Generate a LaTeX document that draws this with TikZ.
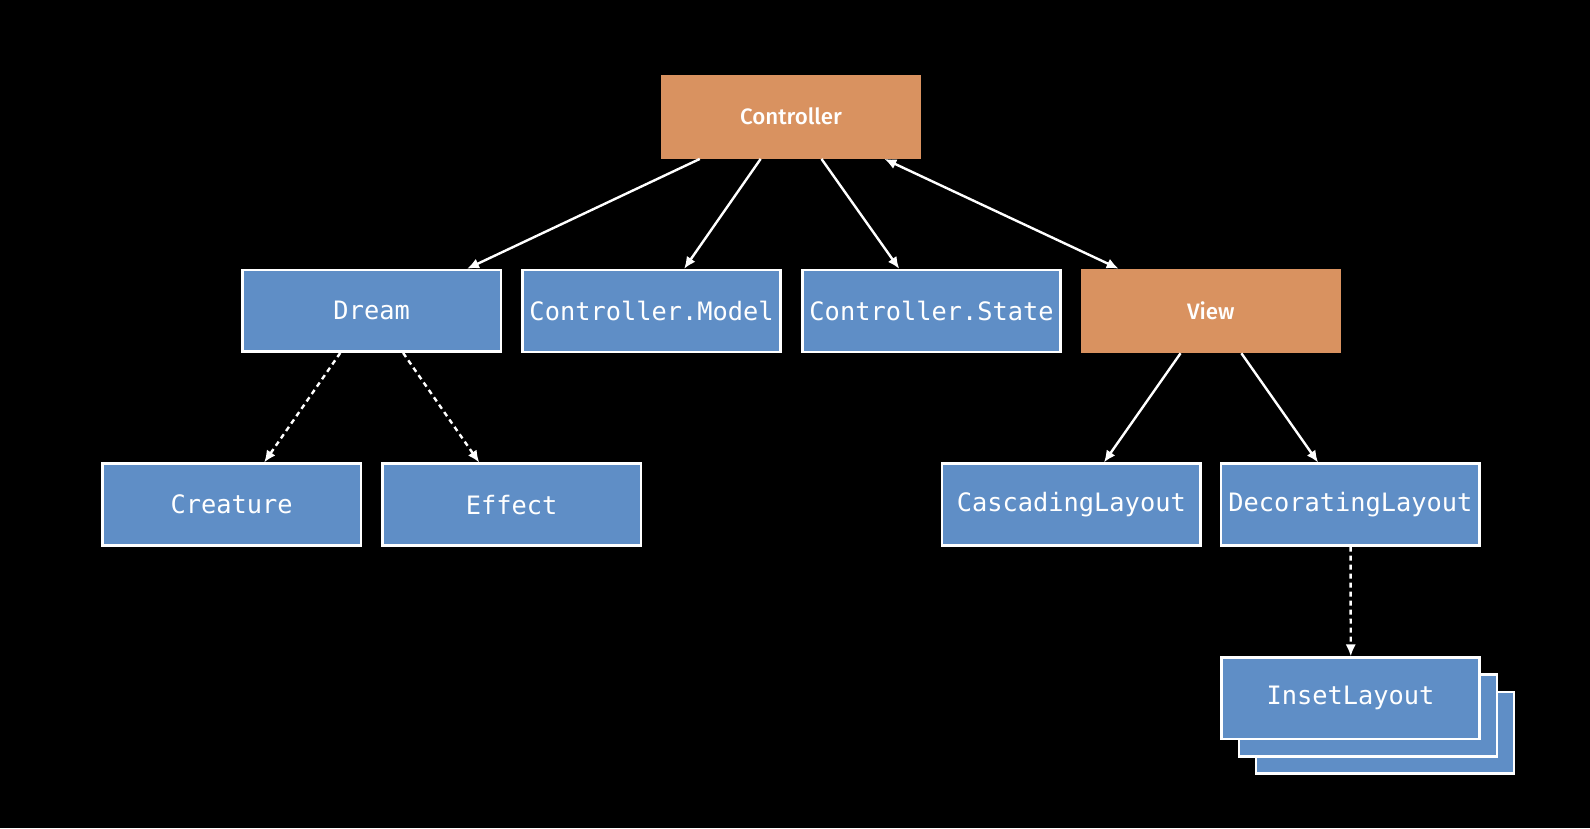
\documentclass[tikz,border=0pt]{standalone}
\usepackage{fontspec}
\setmonofont{DejaVu Sans Mono}
\setsansfont{Fira Sans Medium}
\usetikzlibrary{calc, arrows.meta, positioning}

\definecolor{ctlorange}{RGB}{217,146,96}
\definecolor{typeblue}{RGB}{95,142,198}

\begin{document}
\begin{tikzpicture}[x=1pt,y=1pt,scale=1.014,transform shape,inner sep=0pt,>={Latex[length=12pt,width=10.5pt]},
  typebox/.style={draw=white,line width=2.4pt,fill=typeblue,minimum width=254.6pt,minimum height=80.6pt,text=white,font=\fontsize{25}{30}\selectfont\ttfamily},
  ctlbox/.style={fill=ctlorange,minimum width=257pt,minimum height=83pt,text=white,font=\fontsize{22}{26}\selectfont\sffamily},
  link/.style={->,white,line width=2.4pt},
  weak/.style={link,dash pattern=on 5pt off 4pt}]
\fill [black] (0,0) rectangle (1568,-816.6);
\useasboundingbox (0,0) rectangle (1568,-816.6);
% top
\draw node [ctlbox] (ctrl) at (780,-115) {Controller};
% second row
\draw node [typebox] (dream) at (366.5,-306.5) {Dream};
\draw node [typebox] [right=19pt of dream] (model) {Controller.Model};
\draw node [typebox] [right=19pt of model] (state) {Controller.State};
\draw node [ctlbox] [right=18pt of state] (view) {View};
% third row
\draw node [typebox] (creature) at (228.5,-497.5) {Creature};
\draw node [typebox] [right=19pt of creature] (effect) {Effect};
\draw node [typebox] (cascade) at (1056.5,-497.5) {CascadingLayout};
\draw node [typebox] [right=18pt of cascade] (deco) {DecoratingLayout};
% stacked inset
\draw node [typebox] [below=108pt of deco,xshift=34pt,yshift=-34pt] (inset3) {};
\draw node [typebox] [below=108pt of deco,xshift=17pt,yshift=-17pt] (inset2) {};
\draw node [typebox] [below=108pt of deco] (inset) {InsetLayout};
% links
\draw [link] ([xshift=-90pt]ctrl.south) -- ([xshift=94pt]dream.north);
\draw [link] ([xshift=-30pt]ctrl.south) -- ([xshift=32pt]model.north);
\draw [link] ([xshift=30pt]ctrl.south) -- ([xshift=-32pt]state.north);
\draw [link,<->] ([xshift=92pt]ctrl.south) -- ([xshift=-91pt]view.north);
\draw [weak] ([xshift=-31pt]dream.south) -- ([xshift=32pt]creature.north);
\draw [weak] ([xshift=31pt]dream.south) -- ([xshift=-32pt]effect.north);
\draw [link] ([xshift=-30pt]view.south) -- ([xshift=32pt]cascade.north);
\draw [link] ([xshift=30pt]view.south) -- ([xshift=-32pt]deco.north);
\draw [weak] (deco.south) -- (inset.north);
\end{tikzpicture}
\end{document}
